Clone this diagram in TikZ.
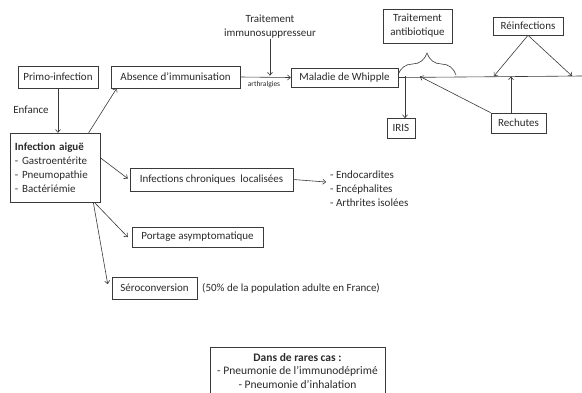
\documentclass[tikz,border=0pt]{standalone}
\usepackage{fontspec}
\setmainfont{Carlito}
\usetikzlibrary{arrows.meta,calc,decorations.pathreplacing}
\definecolor{linec}{HTML}{3A3A3A}
\definecolor{txtc}{HTML}{2A2A2A}
\begin{document}
\begin{tikzpicture}[x=1pt,y=-1pt,
  every node/.style={text=txtc,font=\fontsize{11}{14}\selectfont},
  box/.style={draw=linec,line width=0.6pt,inner sep=0pt,align=center},
  plain/.style={inner sep=0pt},
  arr/.style={draw=linec,line width=0.6pt,-{To[length=3.5pt,width=5.5pt]}},
  ln/.style={draw=linec,line width=0.6pt}]
\clip (0,0) rectangle (582,392);
\fill[white] (0,0) rectangle (582,392);
% boxes
\node[box,minimum width=80pt,minimum height=22pt] (prim) at (58,77) {Primo-infection};
\node[box,minimum width=129pt,minimum height=22pt] (absn) at (175.5,77) {Absence d’immunisation};
\node[box,minimum width=107pt,minimum height=19pt] (whip) at (344.5,77.5) {Maladie de Whipple};
\node[box,minimum width=69pt,minimum height=34pt] (abx) at (417.5,26) {Traitement\\antibiotique};
\node[box,minimum width=70pt,minimum height=18pt] (reinf) at (528,26) {Réinfections};
\node[box,minimum width=28pt,minimum height=20pt] (iris) at (401,128) {IRIS};
\node[box,minimum width=55pt,minimum height=20pt] (rech) at (518.5,123) {Rechutes};
\node[box,minimum width=90pt,minimum height=69pt,align=left,text width=80pt] (inf) at (55,167.5)
  {\textbf{Infection aiguë}\\- Gastroentérite\\- Pneumopathie\\- Bactériémie};
\node[box,minimum width=163pt,minimum height=23pt] (chron) at (211.5,179.5) {Infections chroniques\ \ localisées};
\node[box,minimum width=131pt,minimum height=20pt] (port) at (197.5,237) {Portage asymptomatique};
\node[box,minimum width=85pt,minimum height=22pt] (sero) at (154.5,288) {Séroconversion};
\node[box,minimum width=175pt,minimum height=60pt,anchor=north,
  font=\fontsize{11.5}{13.5}\selectfont] (rare) at (297.5,347)
  {\textbf{Dans de rares cas :}\\- Pneumonie de l’immunodéprimé\\- Pneumonie d’inhalation\\[0pt]};
% plain texts
\node[plain,align=center] (ti) at (270,27) {Traitement\\immunosuppresseur};
\node[plain,font=\fontsize{7.5}{8}\selectfont] (arth) at (264,84.5) {arthralgies};
\node[plain] (enf) at (31,110) {Enfance};
\node[plain,anchor=west,align=left] (list) at (330,189) {- Endocardites\\- Encéphalites\\- Arthrites isolées};
\node[plain,anchor=west] (pct) at (202,288) {(50\% de la population adulte en France)};
% coordinates
\coordinate (tlend) at (582,76);
\coordinate (tiend) at (270,75.5);
\coordinate (br0) at (398,75);
\coordinate (br1) at (456,75);
\coordinate (rl) at (494,76);
\coordinate (rr) at (572,76);
\coordinate (rt) at (420,76.5);
\coordinate (ru) at (511,76.5);
\coordinate (lt) at (326,182);
% connectors
\draw[ln] (whip.east) -- (tlend);
\draw[arr] (absn.east) -- (whip.west);
\draw[arr] (ti.south) -- (tiend);
\draw[ln,decorate,decoration={brace,amplitude=22pt,aspect=0.5}] (br0) -- (br1);
\draw[arr] (reinf.south) -- (rl);
\draw[arr] (reinf.south) -- (rr);
\draw[arr] (405,76) -- (405,118);
\draw[arr] (rech.north west) -- (rt);
\draw[arr] (rech.north -| ru) -- (ru);
\draw[arr] (prim.south) -- (inf.north -| prim.south);
\draw[arr] ($(inf.north west)+(79,0)$) -- ($(absn.south west)+(6,0)$);
\draw[arr] ($(inf.north east)+(0,25)$) -- ($(chron.west)+(-2,-1)$);
\draw[arr] (chron.east) -- (lt);
\draw[arr] ($(inf.south east)+(-6,0)$) -- ($(port.west)+(-4,0)$);
\draw[arr] ($(inf.south east)+(-7,0)$) -- ($(sero.west)+(-4,-4)$);
\end{tikzpicture}
\end{document}
